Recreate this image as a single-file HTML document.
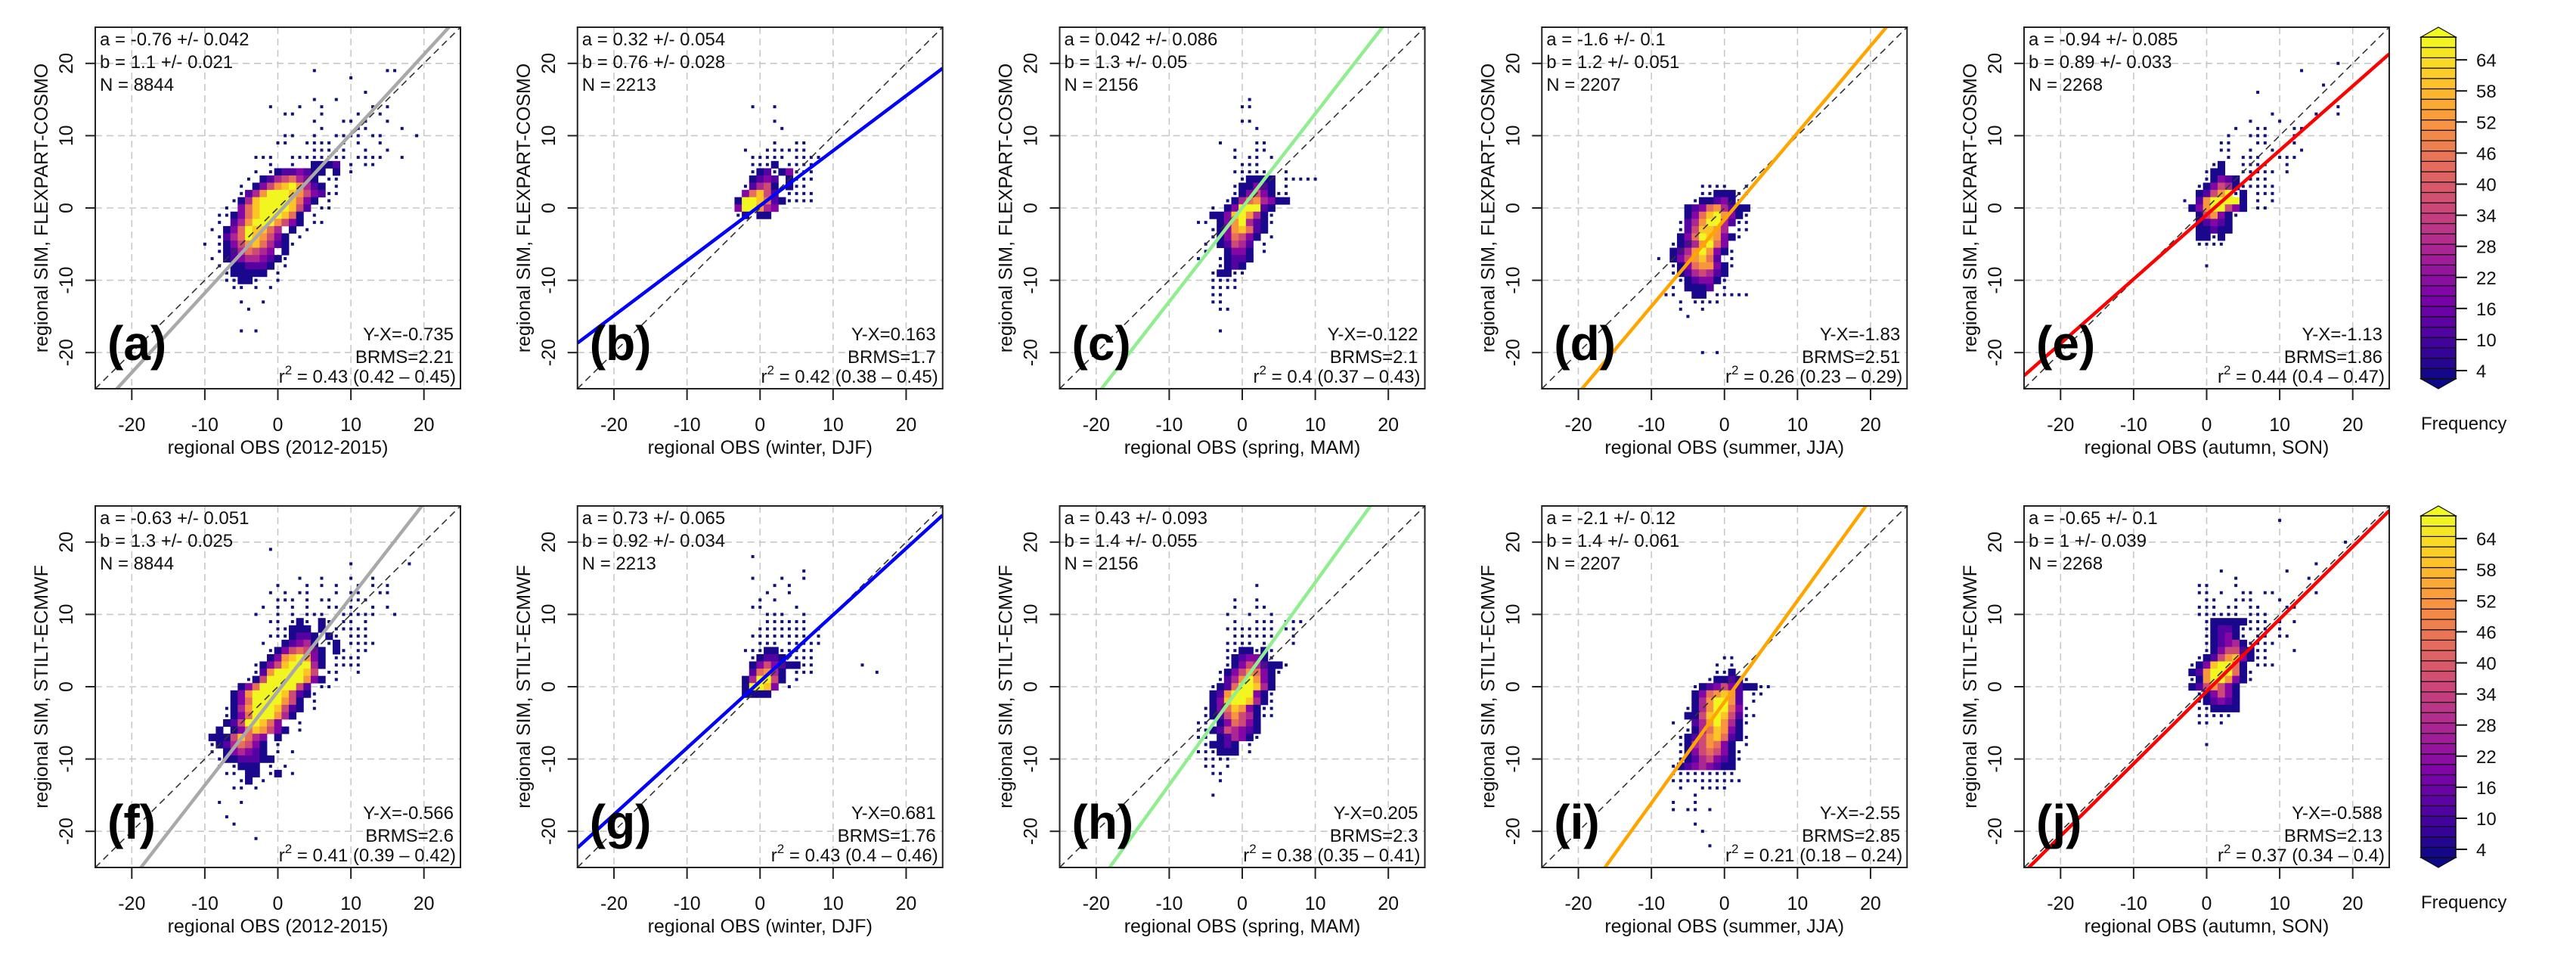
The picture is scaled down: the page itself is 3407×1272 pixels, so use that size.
<!DOCTYPE html>
<html><head><meta charset="utf-8"><title>Regional SIM vs OBS</title>
<style>
html,body{margin:0;padding:0;background:#fff;}
svg{display:block;font-family:"Liberation Sans",Arial,sans-serif;}
</style></head>
<body>
<svg id="fig" width="3407" height="1272" viewBox="0 0 3407 1272" xmlns="http://www.w3.org/2000/svg"></svg>
<script>
// ---------- data ----------
const panelLabels = ["(a)","(b)","(c)","(d)","(e)","(f)","(g)","(h)","(i)","(j)"];
const intercepts = [-0.76,0.32,0.042,-1.6,-0.94,-0.63,0.73,0.43,-2.1,-0.65];
const interceptErr = ["0.042","0.054","0.086","0.1","0.085","0.051","0.065","0.093","0.12","0.1"];
const slopes = [1.1,0.76,1.3,1.2,0.89,1.3,0.92,1.4,1.4,1];
const slopeErr = ["0.021","0.028","0.05","0.051","0.033","0.025","0.034","0.055","0.061","0.039"];
const counts = [8844,2213,2156,2207,2268,8844,2213,2156,2207,2268];
const biasText = ["-0.735","0.163","-0.122","-1.83","-1.13","-0.566","0.681","0.205","-2.55","-0.588"];
const brmsText = ["2.21","1.7","2.1","2.51","1.86","2.6","1.76","2.3","2.85","2.13"];
const r2Text = ["0.43 (0.42 \u2013  0.45)","0.42 (0.38 \u2013  0.45)","0.4 (0.37 \u2013  0.43)","0.26 (0.23 \u2013  0.29)","0.44 (0.4 \u2013  0.47)",
                "0.41 (0.39 \u2013  0.42)","0.43 (0.4 \u2013  0.46)","0.38 (0.35 \u2013  0.41)","0.21 (0.18 \u2013  0.24)","0.37 (0.34 \u2013  0.4)"];
const lineColors = ["#a9a9a9","#0000ff","#90ee90","#ffa500","#ff0000","#a9a9a9","#0000ff","#90ee90","#ffa500","#ff0000"];
const xTitles = ["regional OBS (2012-2015)","regional OBS (winter, DJF)","regional OBS (spring, MAM)","regional OBS (summer, JJA)","regional OBS (autumn, SON)"];
const yTitles = ["regional SIM, FLEXPART-COSMO","regional SIM, STILT-ECMWF"];
const axisTicks = [-20,-10,0,10,20];
const cbTicks = [4,10,16,22,28,34,40,46,52,58,64];
// heatmap grids: origin x (left column), origin y (top row), rows of cells
// ' ' empty, '.' single count, '1'..'9' frequency level
const gridX0 = [-10,-4,-8,-9,-4,-11,-4,-8,-9,-3];
const gridY0 = [19,14,15,3,20,19,18,14,4,23];
const gridRows = [
 [ // a
 "               .         ..","                    .","","                      .","               .  .","         .   .  .      . .",
 "           ..   .    .  .","               .   .. .  .","                .    ..    .","           ..  .  .... ..    .",
 "          ..  .... . .  .","               .....  .  .","       ...  ........ ....  .",
 "         .  .  1112 . ..","       . .1223211 1 .","      . 12456431 ..","     . 1357897421 .","     .24799987532..",
 "    .14899998631 .","   . 3689999852 ..","  ..1368999861 .","  . 2479997531 ..",
 " . 13698864 1 .","  .246987531 .",". .135786421.","  .1246543 1"," . 12344321.","  . 112221 .",
 "   .11111 .","   ..11.  .","    .. . .","","     .  .","      .","","","     . ."
 ],
 [ // b
 "   .  .","","      .","       .","","      .  ..","  .  ......","   ..... ....","   ...1 ....",
 "   .12.13...","   1232 1...","  .2451 1..","  36852 ...."," 1998621....", " 399743"," .1 11"
 ],
 [ // c
 "         .","        ..","","        ..","          .","","     .    ..","       .  ..","       . .. .","        ...",
 "       .....  .","        .1111 .....","       .11321 .","       .13531..","      .14674311","    . 1399921",
 "    11389741.","  .. 1379421.","    .1378621","    .136531 .","   . 12542 .","   .  1331 .","  .  .1221",
 "     .121","    .11..","    ....","    ....","    ..","    ..","     ..","","","     ."
 ],
 [ // d
 "      ....  .","      ..111..","     .11231.","    123674211","    13689731.","   .2479942..","   .258874 ..",
 "   13698731.","  .1247963","  12479731.",". 1357862 .","  .1367731.","  .1245421","   .12331.","  . 1112 .",
 " ..  11 .....","   . ....","   .  .","    .","","","","","      . ."
 ],
 [ // e
 "                      .","                 .","","                    .","           .","","                      .",
 "             .     .  .","          .   .","        .  ..   ..","       .  ...   .","      ..   ..   .",
 "      ..  .  .   .","       . ...  ...","     .1  ....  .","    .11  ..... .","    .1321 ...","   .13541.....",
 "   12579.1 ..."," . 2799991 . .","  13799531 ..","   15731.","   12321","   11211","   11.1","   ....","","","    ."
 ],
 [ // f
 "          .","","                     .       .","","              .  .   .  .","           .   . . .  . . .",
 "          . . ..   . ..  ..","           ... . ..  ...","         . . . .  ....  . .","        .  . . ...  .....  .",
 "          .. .1. 1. .. .","           ..111 1 .....","          ...1221 1. ...","         .  12341 .1 ....",
 "          .1356531 1. ..","          13789731 ....","        .135899941 ....","        .27999985 ..  .",
 "       .1599999731 .","      1369999952 ..","     13799998521.","     1369999751 .","    .1479998521 .",
 "    .136999741","    12599863  .","   1 13687531 .","  11158643 1","  .1246531 .","  . 134321 . .",
 "   .1122211","   . .111 . .","    .. 11 .1 .","      .1 .","     .. .","","   .  .","","    .","     .","","        ."
 ],
 [ // g
 "   .","","          .","   .   .  .","      . .","     .  .","    . .","   ..    .","     ...  .",
 "     ......","    ....... .","   ........ .","    ... .....","  ...11.....","   .1221 ...",
 "   1353211..      .","   26741 ...        .","  149951 .","  19983 .","  1111"
 ],
 [ // h
 "          .","","       .  .","       .  ..","      .  .  .","       .  ... ...","      ....... ..",
 "       ......  .","      .... .   .","      ..11.1.","      .12331.","      .1354211.","     .1357631.",
 "     .2479731","    .12699841","    12799931.","    13899841.","   .1368731..","   .1257541..",
 "  .. 136531","  ..1254321","  .. 12431.","   .1121 .","  ...111 .","   ....","   .. .","    ..","     .","","    ."
 ],
 [ // i
 "         ..","        . .","        ..1","       .1121.","     .12353211..","     1367872 ..","     1479972 .",
 "    .1479963.","    11589852..","  .  2479741.","    .1468731","   .12578621.","   .1457631 .",
 "   .1356531.","   .1245321.","  .12343211","  .........","  ..........","   .  ....","     .",
 "  .  .","  . .. .","","     .","      .","","       ."
 ],
 [ // j
 "             .","","","                      .","","","                  .","     .        .","       .         .",
 "  ..   .","  .. .  .. ..     .","   ..  ...   .","  ... .. ..   ..","  ...... ...","   .11111... . .",
 "   .1221.... .","   .1231. .. ..","   .12341....","   .135521..   .","  .1257831..", " .1389961 ..."," 12799961.",
 " .1799731."," 1257531","  .13531","  .12321","  ..1111","  .....","  .. .","","","   ."
 ]
];

// ---------- layout ----------
const SVGNS = "http://www.w3.org/2000/svg";
const svg = document.getElementById('fig');
const BOXW = 483, BOXH = 478;
const colLeft = [126, 763.75, 1401.5, 2039.25, 2677];
const rowTop = [36, 669];
const DMIN = -25, DMAX = 25;
function mk(tag, attrs, parent){
  const e = document.createElementNS(SVGNS, tag);
  for (const k in attrs) e.setAttribute(k, attrs[k]);
  (parent||svg).appendChild(e); return e;
}
const plasma = [[0,[13,8,135]],[0.125,[76,2,161]],[0.25,[126,3,168]],[0.375,[169,35,149]],[0.5,[204,71,120]],
                [0.625,[230,108,92]],[0.75,[248,149,64]],[0.875,[253,197,39]],[1,[240,249,33]]];
function plasmaColor(t){
  t = Math.max(0, Math.min(1, t));
  for (let i=1;i<plasma.length;i++){
    if (t <= plasma[i][0]){
      const a=plasma[i-1], b=plasma[i], f=(t-a[0])/(b[0]-a[0]);
      const c=a[1].map((v,j)=>Math.round(v+(b[1][j]-v)*f));
      return `rgb(${c[0]},${c[1]},${c[2]})`;
    }
  }
  return 'rgb(240,249,33)';
}
const CB_MIN = 2.4, CB_MAX = 68.4;
function freqColor(v){ return plasmaColor((v-CB_MIN)/(CB_MAX-CB_MIN)); }

for (let p=0;p<10;p++){
  const col = p%5, row = Math.floor(p/5);
  const L = colLeft[col], T = rowTop[row];
  const sx = v => L + (v-DMIN)/(DMAX-DMIN)*BOXW;
  const sy = v => T + (DMAX-v)/(DMAX-DMIN)*BOXH;
  const g = mk('g', {});
  
  
  const cid = 'clip'+p;
  const cp = mk('clipPath', {id:cid}, g);
  mk('rect', {x:L, y:T, width:BOXW, height:BOXH}, cp);
  // grid
  const grid = mk('g', {stroke:'#c8c8c8','stroke-width':1.6,'stroke-dasharray':'9,6',fill:'none'}, g);
  
  
  axisTicks.forEach(t=>{
    mk('line',{x1:sx(t),x2:sx(t),y1:T,y2:T+BOXH},grid);
    mk('line',{x1:L,x2:L+BOXW,y1:sy(t),y2:sy(t)},grid);
  });
  // heatmap
  const hm = mk('g', {'clip-path':`url(#${cid})`}, g);
  
  
  const cw = BOXW/(DMAX-DMIN), ch = BOXH/(DMAX-DMIN);
  gridRows[p].forEach((str, r)=>{
    const yv = gridY0[p] - r;
    for (let c=0;c<str.length;c++){
      const ch_ = str[c]; if (ch_===' ') continue;
      const xv = gridX0[p] + c;
      if (ch_==='.'){
        const d = mk('rect',{x:sx(xv)-2,y:sy(yv)-2,width:4,height:4,fill:'#10107a'},hm);
        
        
      } else {
        const lvl = parseInt(ch_,10);
        const cell = mk('rect',{x:sx(xv-0.5),y:sy(yv+0.5),width:cw+0.4,height:ch+0.4,fill:freqColor(4+(lvl-1)*8)},hm);
        
        
      }
    }
  });
  // 1:1 line and regression line
  const one = mk('line',{x1:sx(DMIN),y1:sy(DMIN),x2:sx(DMAX),y2:sy(DMAX),stroke:'#333','stroke-width':1.6,'stroke-dasharray':'9,6','clip-path':`url(#${cid})`},g);
  
  
  const reg = mk('line',{x1:sx(DMIN),y1:sy(intercepts[p]+slopes[p]*DMIN),x2:sx(DMAX),y2:sy(intercepts[p]+slopes[p]*DMAX),
                 stroke:lineColors[p],'stroke-width':4.5,'clip-path':`url(#${cid})`},g);
  
  
  // box
  const box = mk('rect',{x:L,y:T,width:BOXW,height:BOXH,fill:'none',stroke:'#222','stroke-width':2},g);
  
  
  // ticks
  axisTicks.forEach(t=>{
    mk('line',{x1:sx(t),x2:sx(t),y1:T+BOXH,y2:T+BOXH+15,stroke:'#222','stroke-width':2},g);
    const xl = mk('text',{x:sx(t),y:T+BOXH+56,'font-size':25,'text-anchor':'middle',fill:'#111'},g);
    xl.textContent = String(t);
    
    
    mk('line',{x1:L-13,x2:L,y1:sy(t),y2:sy(t),stroke:'#222','stroke-width':2},g);
    const yl = mk('text',{x:0,y:0,'font-size':25,'text-anchor':'middle',fill:'#111',transform:`translate(${L-30},${sy(t)}) rotate(-90)`},g);
    yl.textContent = String(t);
    
    
  });
  // axis titles
  const xt = mk('text',{x:L+BOXW/2,y:T+BOXH+86,'font-size':25,'text-anchor':'middle',fill:'#111'},g);
  xt.textContent = xTitles[col];
  
  
  const yt = mk('text',{x:0,y:0,'font-size':25,'text-anchor':'middle',fill:'#111',transform:`translate(${L-63},${T+BOXH/2}) rotate(-90)`},g);
  yt.textContent = yTitles[row];
  
  
  // stats text top-left
  const stats = ["a = "+intercepts[p]+" +/- "+interceptErr[p], "b = "+slopes[p]+" +/- "+slopeErr[p], "N = "+counts[p]];
  stats.forEach((s,i)=>{
    const st = mk('text',{x:L+6,y:T+24+i*30,'font-size':24,fill:'#111'},g);
    st.textContent = s;
    
    
  });
  // stats bottom-right
  const bx = mk('text',{x:L+BOXW-9,y:T+414,'font-size':24,'text-anchor':'end',fill:'#111'},g);
  bx.textContent = "Y-X="+biasText[p];
  
  
  const br = mk('text',{x:L+BOXW-9,y:T+444,'font-size':24,'text-anchor':'end',fill:'#111'},g);
  br.textContent = "BRMS="+brmsText[p];
  
  
  const r2 = mk('text',{x:L+BOXW-6,y:T+470,'font-size':24,'text-anchor':'end',fill:'#111'},g);
  
  
  const t1 = mk('tspan',{},r2); t1.textContent = 'r';
  const t2 = mk('tspan',{dy:-11,'font-size':17},r2); t2.textContent = '2';
  const t3 = mk('tspan',{dy:11},r2); t3.textContent = ' = '+r2Text[p];
  // panel label
  const pl = mk('text',{x:L+16,y:T+440,'font-size':64,'font-weight':'bold',fill:'#000'},g);
  pl.textContent = panelLabels[p];
  
  
}

// ---------- colour bars ----------
const CBL = 3202, CBW = 46;
for (let row=0; row<2; row++){
  const T = rowTop[row];
  const cy = v => T + 13 + (CB_MAX - v)*((465-13)/(CB_MAX-CB_MIN));
  const g = mk('g',{});
  
  
  for (let v=CB_MIN; v<CB_MAX-0.01; v+=2){
    const band = mk('rect',{x:CBL,y:cy(v+2),width:CBW,height:cy(v)-cy(v+2),fill:freqColor(v+1),stroke:'#111','stroke-width':1.2},g);
    
    
  }
  const top = mk('polygon',{points:`${CBL},${T+13} ${CBL+CBW/2},${T} ${CBL+CBW},${T+13}`,fill:freqColor(CB_MAX),stroke:'#111','stroke-width':1.2},g);
  
  
  const bot = mk('polygon',{points:`${CBL},${T+465} ${CBL+CBW/2},${T+478} ${CBL+CBW},${T+465}`,fill:freqColor(CB_MIN),stroke:'#111','stroke-width':1.2},g);
  
  
  mk('rect',{x:CBL,y:T+13,width:CBW,height:452,fill:'none',stroke:'#111','stroke-width':1.5},g);
  cbTicks.forEach(t=>{
    mk('line',{x1:CBL+CBW,x2:CBL+CBW+15,y1:cy(t),y2:cy(t),stroke:'#111','stroke-width':2},g);
    const tl = mk('text',{x:CBL+CBW+27,y:cy(t)+9,'font-size':24,fill:'#111'},g);
    tl.textContent = String(t);
    
    
  });
  const ft = mk('text',{x:CBL,y:T+532,'font-size':24,fill:'#111'},g);
  ft.textContent = 'Frequency';
  
  
}
</script>
</body></html>
